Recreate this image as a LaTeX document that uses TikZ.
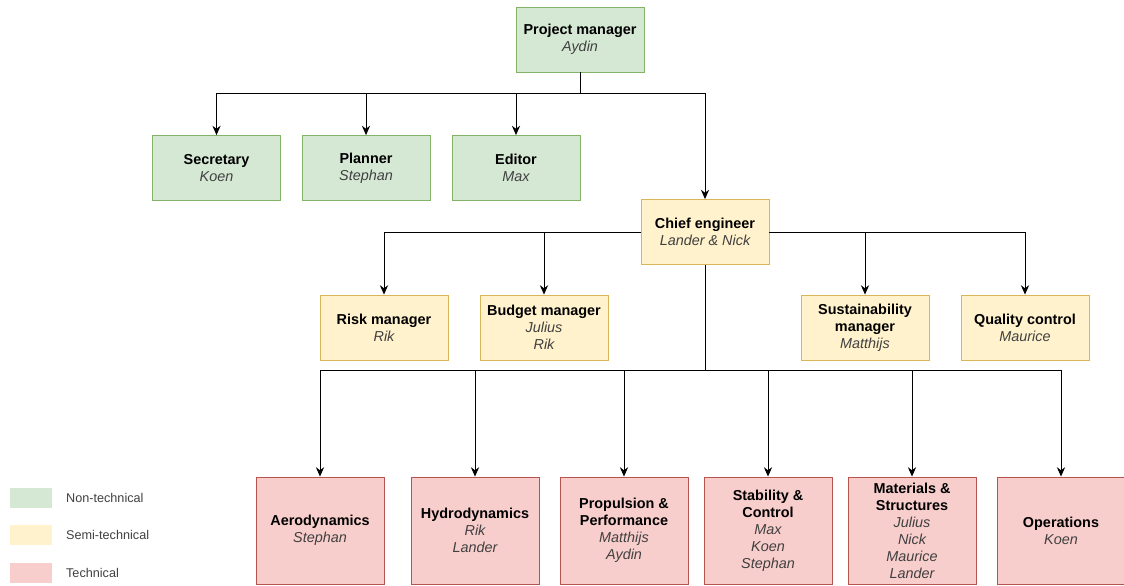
\documentclass[tikz,border=0pt]{standalone}
\usepackage{fontspec}
\setmainfont{Liberation Sans}
\usetikzlibrary{arrows.meta, positioning}

\definecolor{nonfill}{HTML}{D5E8D4}
\definecolor{nonline}{HTML}{82B366}
\definecolor{semifill}{HTML}{FFF2CC}
\definecolor{semiline}{HTML}{D6B656}
\definecolor{techfill}{HTML}{F8CECC}
\definecolor{techline}{HTML}{B85450}

\newcommand{\nm}[1]{\textcolor{black!75}{\itshape #1}}

\begin{document}
\begin{tikzpicture}[x=0.03cm, y=-0.03cm, >={Stealth[length=8pt, width=7pt]},
  font=\fontsize{12.3}{14.5}\selectfont,
  unit/.style={draw, line width=0.7pt, align=center, inner sep=2pt,
               minimum width=3.84cm, minimum height=1.95cm},
  nontech/.style={unit, fill=nonfill, draw=nonline},
  semitech/.style={unit, fill=semifill, draw=semiline},
  tech/.style={unit, fill=techfill, draw=techline, minimum height=3.21cm},
  swatch/.style={fill=#1, minimum width=1.26cm, minimum height=0.6cm, inner sep=0pt},
  legtext/.style={anchor=west, font=\fontsize{10.8}{12}\selectfont, text=black!75},
  arr/.style={->, line width=0.8pt},
  wire/.style={line width=0.8pt}]

\useasboundingbox (0,0) rectangle (1124,585);

% --- management
\node[nontech] (pm) at (580,39.5) {\textbf{Project manager}\\\nm{Aydin}};
\node[nontech] (sec) at (216.5,168) {\textbf{Secretary}\\\nm{Koen}};
\node[nontech] (plan) at (366,168) {\textbf{Planner}\\\nm{Stephan}};
\node[nontech] (edit) at (516,168) {\textbf{Editor}\\\nm{Max}};

% --- chief engineer and staff
\node[semitech] (chief) at (705,232) {\textbf{Chief engineer}\\\nm{Lander \& Nick}};
\node[semitech] (risk) at (384,327.5) {\textbf{Risk manager}\\\nm{Rik}};
\node[semitech] (budget) at (544,327.5) {\textbf{Budget manager}\\\nm{Julius}\\\nm{Rik}};
\node[semitech] (sust) at (865,327.5) {\textbf{Sustainability}\\\textbf{manager}\\\nm{Matthijs}};
\node[semitech] (qual) at (1025,327.5) {\textbf{Quality control}\\\nm{Maurice}};

% --- technical departments
\node[tech] (aero) at (320,530.5) {\textbf{Aerodynamics}\\\nm{Stephan}};
\node[tech] (hydro) at (475,530.5) {\textbf{Hydrodynamics}\\\nm{Rik}\\\nm{Lander}};
\node[tech] (prop) at (624,530.5) {\textbf{Propulsion \&}\\\textbf{Performance}\\\nm{Matthijs}\\\nm{Aydin}};
\node[tech] (stab) at (768,530.5) {\textbf{Stability \&}\\\textbf{Control}\\\nm{Max}\\\nm{Koen}\\\nm{Stephan}};
\node[tech] (mat) at (912,530.5) {\textbf{Materials \&}\\\textbf{Structures}\\\nm{Julius}\\\nm{Nick}\\\nm{Maurice}\\\nm{Lander}};
\node[tech] (ops) at (1061,530.5) {\textbf{Operations}\\\nm{Koen}};

% --- connectors
\coordinate (top) at (580,93);
\draw[wire] (pm.south) -- (top);
\foreach \n in {sec, plan, edit, chief}
  \draw[arr] (top) -| (\n.north);

\foreach \n in {risk, budget}
  \draw[arr] (chief.west) -| (\n.north);
\foreach \n in {sust, qual}
  \draw[arr] (chief.east) -| (\n.north);

\coordinate (dept) at (705,370);
\draw[wire] (chief.south) -- (dept);
\foreach \n in {aero, hydro, prop, stab, mat, ops}
  \draw[arr] (dept) -| (\n.north);

% --- legend
\node[swatch=nonfill] (lg1) at (31,498) {};
\node[swatch=semifill] (lg2) at (31,535) {};
\node[swatch=techfill] (lg3) at (31,573) {};
\node[legtext] at (62,498) {Non-technical};
\node[legtext] at (62,535) {Semi-technical};
\node[legtext] at (62,573) {Technical};
\end{tikzpicture}
\end{document}
